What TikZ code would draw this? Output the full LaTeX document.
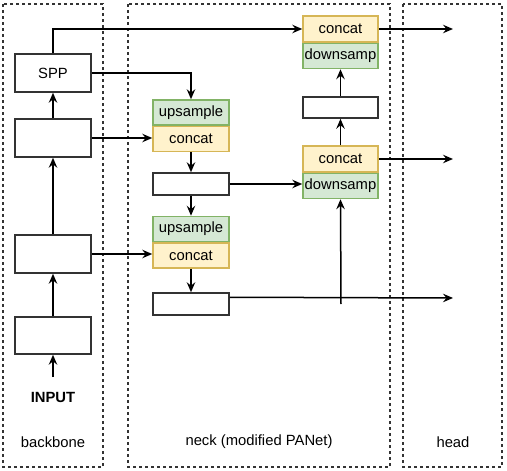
\documentclass[tikz,border=0pt]{standalone}
\usepackage{fontspec}
\setmainfont{Liberation Sans}
\usetikzlibrary{arrows.meta,calc,positioning}

\definecolor{upfill}{HTML}{D5E8D4}
\definecolor{updraw}{HTML}{82B366}
\definecolor{catfill}{HTML}{FFF2CC}
\definecolor{catdraw}{HTML}{D6B656}

\begin{document}
\begin{tikzpicture}[x=1pt,y=-1pt,>={Stealth[length=10pt,width=8.5pt,inset=3.5pt]},
	font=\fontsize{14.8}{17}\selectfont, line width=1.5pt]
	\tikzstyle{block} = [draw=black!80, rectangle, inner sep=0pt, minimum width=76pt, minimum height=38pt]
	\tikzstyle{thin} = [draw=black!80, rectangle, inner sep=0pt, minimum width=76pt, minimum height=22pt]
	\tikzstyle{up} = [draw=updraw, fill=upfill, rectangle, inner sep=0pt, minimum width=76pt, minimum height=25pt]
	\tikzstyle{cat} = [draw=catdraw, fill=catfill, rectangle, inner sep=0pt, minimum width=76pt, minimum height=25pt]
	\tikzstyle{group} = [draw=black!80, line width=1.3pt, dash pattern=on 3pt off 3pt]
	
	\useasboundingbox (0,0) rectangle (507,471);
	
	% containers
	\draw [group] (3,4) rectangle (103,467);
	\draw [group] (128,4) rectangle (390,467);
	\draw [group] (403,4) rectangle (502,467);
	\node (lbackbone) at (53,442) {backbone};
	\node (lneck) at (259,442) {neck (modified PANet)};
	\node (lhead) at (453,442) {head};
	
	% backbone
	\node [block, minimum height=37pt] (bb4) at (53,335.5) {};
	\node [block] (bb3) at (53,254) {};
	\node [block] (bb2) at (53,138) {};
	\node [block] (spp) at (53,73) {SPP};
	\node (input) at (53,397) {\bfseries INPUT};
	\coordinate (inarrow) at (53,377);
	
	% neck, top-down path
	\node [up] (up1) at (191,112.5) {upsample};
	\node [cat, below = 0pt of up1] (cat1) {concat};
	\node [thin] (nb1) at (191,184) {};
	\node [up] (up2) at (191,229) {upsample};
	\node [cat, below = 0pt of up2] (cat2) {concat};
	\node [thin] (nb2) at (191,304) {};
	
	% neck, bottom-up path
	\node [cat, minimum width=75pt, minimum height=26pt] (catA) at (340.5,29) {concat};
	\node [up, minimum width=75pt, below = 0pt of catA] (dsA) {downsamp};
	\node [thin, minimum width=75pt, minimum height=21pt] (pb) at (340.5,107.5) {};
	\node [cat, minimum width=75pt, minimum height=26pt] (catB) at (340.5,159) {concat};
	\node [up, minimum width=75pt, below = 0pt of catB] (dsB) {downsamp};
	
	% outputs
	\coordinate (out1) at (453,29);
	\coordinate (out2) at (453,159);
	\coordinate (out3) at (453,298);
	\coordinate (nb2out) at ($(nb2.north east)+(0,5)$);
	\coordinate (tap) at (341,304);
	
	\draw [->] (inarrow) -- (bb4);
	\draw [->] (bb4) -- (bb3);
	\draw [->] (bb3) -- (bb2);
	\draw [->] (bb2) -- (spp);
	
	\draw [->] (spp.north) |- (catA.west);
	\draw [->] (spp.east) -| (up1.north);
	\draw [->] (bb2.east) -- (bb2.east -| cat1.west);
	\draw [->] (cat1) -- (nb1);
	\draw [->] (nb1) -- (up2);
	\draw [->] (bb3.east) -- (bb3.east -| cat2.west);
	\draw [->] (cat2) -- (nb2);
	
	\draw [->] (nb1.east) -- (nb1.east -| dsB.west);
	\draw [->] (tap) -- (dsB.south);
	\draw [->] (catB) -- (pb);
	\draw [->] (pb) -- (dsA);
	
	\draw [->] (catA.east) -- (out1);
	\draw [->] (catB.east) -- (out2);
	\draw [->] (nb2out) -- (out3);
\end{tikzpicture}
\end{document}
